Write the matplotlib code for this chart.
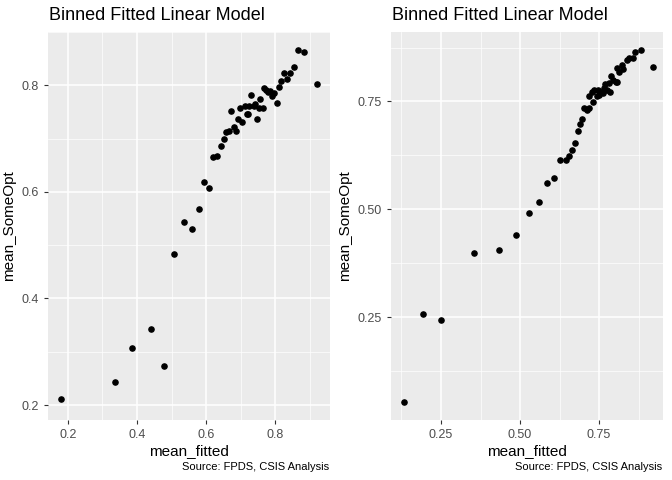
import numpy as np
import matplotlib.pyplot as plt
from matplotlib.ticker import MultipleLocator, FormatStrFormatter

# left panel
left_x = [0.18, 0.337, 0.387, 0.442, 0.477, 0.506, 0.536, 0.559, 0.579, 0.594, 0.608, 0.620,
          0.632, 0.644, 0.652, 0.658, 0.667, 0.673, 0.681, 0.687, 0.693, 0.699, 0.705, 0.711,
          0.717, 0.722, 0.725, 0.731, 0.737, 0.740, 0.746, 0.752, 0.757, 0.763, 0.766, 0.772,
          0.778, 0.784, 0.789, 0.795, 0.804, 0.810, 0.815, 0.824, 0.833, 0.842, 0.853, 0.865,
          0.883, 0.921]
left_y = [0.212, 0.244, 0.308, 0.343, 0.274, 0.483, 0.543, 0.530, 0.567, 0.618, 0.608, 0.665,
          0.667, 0.687, 0.700, 0.712, 0.714, 0.751, 0.721, 0.714, 0.736, 0.757, 0.732, 0.762,
          0.747, 0.747, 0.761, 0.781, 0.761, 0.764, 0.736, 0.757, 0.774, 0.757, 0.794, 0.792,
          0.787, 0.789, 0.779, 0.785, 0.766, 0.796, 0.809, 0.824, 0.811, 0.823, 0.834, 0.866,
          0.862, 0.802]

# right panel
right_x = [0.133, 0.193, 0.25, 0.355, 0.435, 0.488, 0.529, 0.561, 0.586, 0.608, 0.627, 0.646,
           0.656, 0.665, 0.675, 0.684, 0.691, 0.697, 0.703, 0.713, 0.719, 0.719, 0.726, 0.732,
           0.735, 0.742, 0.748, 0.751, 0.754, 0.761, 0.764, 0.767, 0.770, 0.776, 0.780, 0.786,
           0.789, 0.795, 0.802, 0.805, 0.808, 0.814, 0.821, 0.827, 0.837, 0.843, 0.856, 0.865,
           0.884, 0.919]
right_y = [0.053, 0.257, 0.243, 0.398, 0.405, 0.440, 0.492, 0.518, 0.560, 0.572, 0.614, 0.614,
           0.623, 0.637, 0.654, 0.682, 0.698, 0.710, 0.734, 0.731, 0.734, 0.762, 0.771, 0.748,
           0.776, 0.762, 0.776, 0.764, 0.771, 0.769, 0.776, 0.781, 0.790, 0.776, 0.792, 0.771,
           0.809, 0.799, 0.795, 0.795, 0.827, 0.818, 0.834, 0.825, 0.846, 0.851, 0.851, 0.865,
           0.870, 0.830]

TITLE = "Binned Fitted Linear Model"
CAPTION = "Source: FPDS, CSIS Analysis"

plt.rcParams["font.family"] = ["Liberation Sans", "DejaVu Sans"]
fig = plt.figure(figsize=(6.72, 4.8), dpi=100)

def style(ax, xlim, ylim, xmaj, ymaj, xfmt, yfmt):
    ax.set_facecolor("#ebebeb")
    for s in ax.spines.values():
        s.set_visible(False)
    ax.set_xlim(*xlim)
    ax.set_ylim(*ylim)
    ax.xaxis.set_major_locator(MultipleLocator(xmaj))
    ax.xaxis.set_minor_locator(MultipleLocator(xmaj / 2))
    ax.yaxis.set_major_locator(MultipleLocator(ymaj))
    ax.yaxis.set_minor_locator(MultipleLocator(ymaj / 2))
    ax.xaxis.set_major_formatter(FormatStrFormatter(xfmt))
    ax.yaxis.set_major_formatter(FormatStrFormatter(yfmt))
    ax.grid(which="major", color="white", lw=1.1)
    ax.grid(which="minor", color="white", lw=0.5)
    ax.set_axisbelow(True)
    ax.tick_params(which="major", length=3, color="#333333", labelsize=9, labelcolor="#4d4d4d")
    ax.tick_params(which="minor", length=0)
    ax.set_xlabel("mean_fitted", fontsize=11, labelpad=2)
    ax.set_ylabel("mean_SomeOpt", fontsize=11)

ax1 = fig.add_axes([48 / 672, 60 / 480, 282 / 672, 388 / 480])
ax1.scatter(left_x, left_y, s=14, color="black", zorder=3)
style(ax1, (0.143, 0.958), (0.172, 0.90), 0.2, 0.2, "%.1f", "%.1f")
ax1.set_title(TITLE, loc="left", fontsize=13, x=0.005, y=1.01)

ax2 = fig.add_axes([391 / 672, 60 / 480, 272 / 672, 388 / 480])
ax2.scatter(right_x, right_y, s=14, color="black", zorder=3)
style(ax2, (0.092, 0.952), (0.012, 0.911), 0.25, 0.25, "%.2f", "%.2f")
ax2.set_title(TITLE, loc="left", fontsize=13, x=0.005, y=1.01)

fig.text(329 / 672, 8 / 480, CAPTION, ha="right", va="bottom", fontsize=8)
fig.text(662 / 672, 8 / 480, CAPTION, ha="right", va="bottom", fontsize=8)

fig.savefig("out.png", dpi=100)
